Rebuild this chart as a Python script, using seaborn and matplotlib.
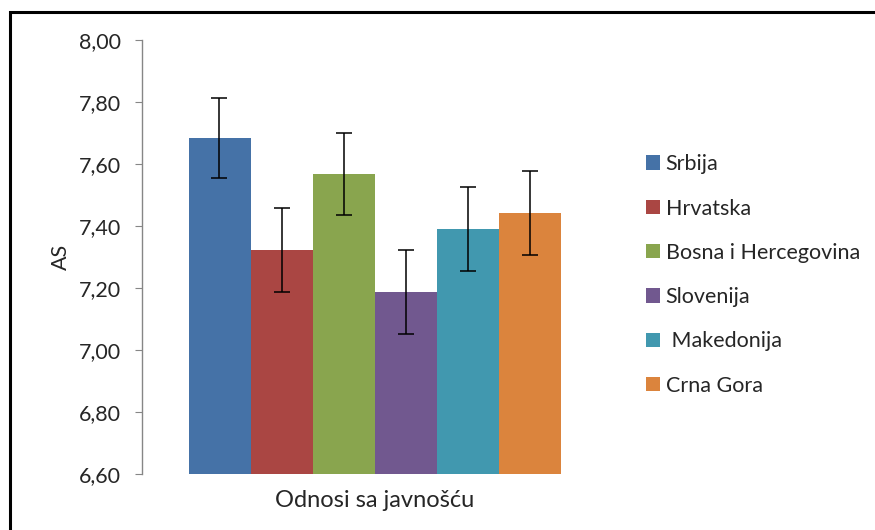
import matplotlib
matplotlib.use("Agg")
import matplotlib.pyplot as plt
import matplotlib.patches as mpatches
import numpy as np
import pandas as pd
import seaborn as sns

# values
countries = ["Srbija", "Hrvatska", "Bosna i Hercegovina", "Slovenija", " Makedonija", "Crna Gora"]
means = [7.684, 7.323, 7.568, 7.187, 7.390, 7.443]
errors = [0.129, 0.136, 0.133, 0.134, 0.136, 0.136]
category = "Odnosi sa javnošću"
yticks = [6.6, 6.8, 7.0, 7.2, 7.4, 7.6, 7.8, 8.0]

colors = ["#4572A7", "#AA4643", "#89A54E", "#71588F", "#4198AF", "#DB843D"]

sns.set_style("white")
plt.rcParams['font.family'] = ['Lato', 'DejaVu Sans']

df = pd.DataFrame({"cat": [category] * len(countries), "country": countries, "AS": means})

fig = plt.figure(figsize=(8.75, 5.3), dpi=100)
ax = fig.add_axes([142 / 875, 56 / 530, 465 / 875, 434 / 530])

sns.barplot(data=df, x="cat", y="AS", hue="country", hue_order=countries,
            palette=colors, saturation=1, errorbar=None, linewidth=0, ax=ax, legend=True)
ax.set_xlim(-0.5, 0.5)

# error bars centred on the drawn bars
bars = [p for p in ax.patches if p.get_height() > 0][:len(countries)]
xs = [b.get_x() + b.get_width() / 2 for b in bars]
hs = [b.get_height() for b in bars]
ax.errorbar(xs, hs, yerr=errors, fmt="none", ecolor="black", elinewidth=1.1,
            capsize=6, capthick=1.1)

ax.set_ylim(6.6, 8.0)
ax.set_yticks(yticks)
ax.set_yticklabels([f"{v:.2f}".replace(".", ",") for v in yticks])
ax.set_xlabel("")
ax.set_ylabel("AS", fontsize=15.5, labelpad=6)
ax.tick_params(axis="y", left=True, length=5, color="#868686", labelsize=15.5, pad=10)
ax.tick_params(axis="x", bottom=False, labelsize=17, pad=8)
for s in ["top", "right", "bottom"]:
    ax.spines[s].set_visible(False)
ax.spines["left"].set_color("#868686")
ax.spines["left"].set_linewidth(1)

handles, labels = ax.get_legend_handles_labels()
ax.get_legend().remove()
fig.legend(handles, labels, loc="center left", bbox_to_anchor=(627 / 875, 1 - 275 / 530),
           frameon=False, fontsize=15.5, handlelength=0.65, handleheight=0.65,
           handletextpad=0.25, labelspacing=1.13)

# outer frame of the chart area
fig.patches.append(mpatches.Rectangle((10 / 875, -0.1), 1.0, (530 - 12) / 530 + 0.1,
                                      transform=fig.transFigure, fill=False,
                                      edgecolor="black", linewidth=2.2, clip_on=False))

fig.savefig("out.png", dpi=100)
